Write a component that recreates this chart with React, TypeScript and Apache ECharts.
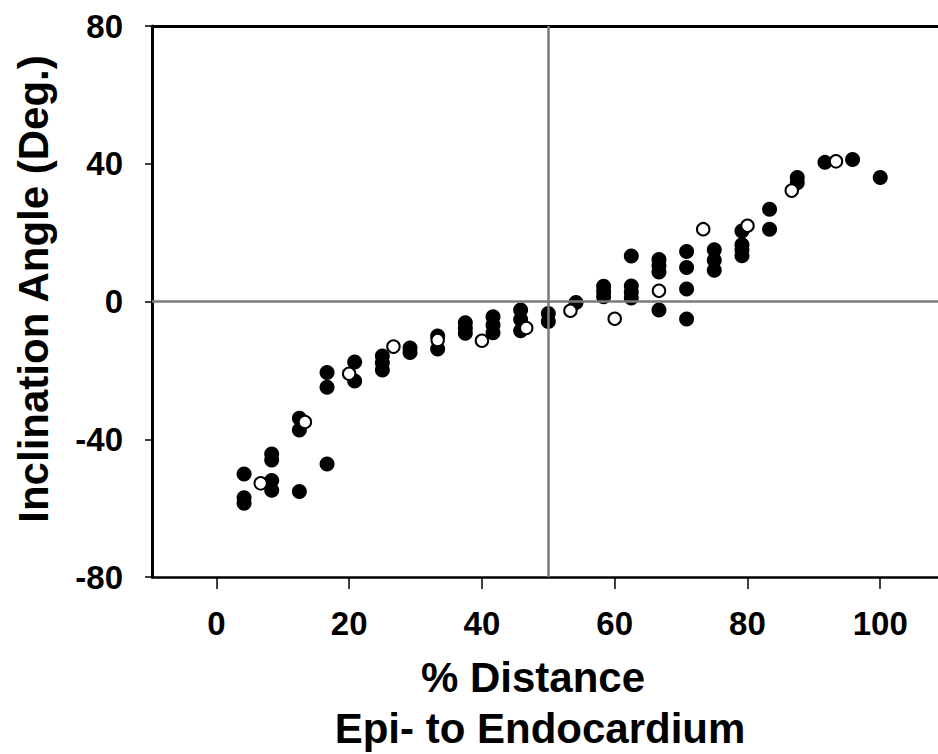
import React, { useEffect, useRef } from "react";
import * as echarts from "echarts";

// Filled circles: [% distance, inclination angle]
const filledPoints: [number, number][] = [
  [4.17, -50.1], [4.17, -57], [4.17, -58.6],
  [8.33, -44.3], [8.33, -46], [8.33, -52], [8.33, -54.8],
  [12.5, -33.9], [12.5, -37.3], [12.5, -55.2],
  [16.67, -20.6], [16.67, -24.9], [16.67, -47.2],
  [20.83, -17.6], [20.83, -23.1],
  [25, -15.8], [25, -17.8], [25, -19.9],
  [29.17, -13.5], [29.17, -14.8],
  [33.33, -10], [33.33, -13.8],
  [37.5, -6.2], [37.5, -7.8], [37.5, -9.2],
  [41.67, -4.4], [41.67, -6.8], [41.67, -9.1],
  [45.83, -2.5], [45.83, -5.2], [45.83, -8.5],
  [50, -3.5], [50, -5.8],
  [54.17, -0.3],
  [58.33, 4.4], [58.33, 2.9], [58.33, 1.4],
  [62.5, 13.2], [62.5, 4.5], [62.5, 2.7], [62.5, 1],
  [66.67, 12.2], [66.67, 10.4], [66.67, 8.6], [66.67, -2.5],
  [70.83, 14.5], [70.83, 9.9], [70.83, 3.6], [70.83, -5.1],
  [75, 15], [75, 12], [75, 9.1],
  [79.17, 20.5], [79.17, 16.5], [79.17, 15], [79.17, 13.3],
  [83.33, 26.8], [83.33, 21],
  [87.5, 36], [87.5, 34.5],
  [91.67, 40.4],
  [95.83, 41.2],
  [100, 36],
];

// Open circles: [% distance, inclination angle]
const openPoints: [number, number][] = [
  [6.67, -52.8], [13.33, -35], [20, -21], [26.67, -13.1], [33.33, -11.2],
  [40, -11.4], [46.67, -7.7], [53.33, -2.7], [60, -5], [66.67, 3.1],
  [73.33, 21], [80, 22], [86.67, 32.2], [93.33, 40.7],
];

const xTicks = [0, 20, 40, 60, 80, 100];
const yTicks = [-80, -40, 0, 40, 80];
const xTitle1 = "% Distance";
const xTitle2 = "Epi- to Endocardium";
const yTitle = "Inclination Angle (Deg.)";
const refX = 50;
const refY = 0;

const FONT = '"Liberation Sans", Arial, Helvetica, sans-serif';

export default function App() {
  const ref = useRef<HTMLDivElement>(null);
  useEffect(() => {
    if (!ref.current) return;
    const chart = echarts.init(ref.current, undefined, { renderer: "svg" });
    chart.setOption({
      animation: false,
      backgroundColor: "#fff",
      grid: { left: 152, right: 0, top: 26, bottom: 177, containLabel: false },
      xAxis: [
        {
          type: "value",
          position: "bottom",
          min: -9.7,
          max: 108.7,
          splitLine: { show: false },
          axisLine: { show: true, onZero: false, lineStyle: { color: "#000", width: 2.5 } },
          axisTick: { show: true, customValues: xTicks, length: 12, lineStyle: { color: "#000", width: 1.5 } },
          axisLabel: {
            customValues: xTicks,
            fontSize: 33,
            fontWeight: "bold",
            fontFamily: FONT,
            color: "#000",
            margin: 30,
          },
        },
        {
          type: "value",
          position: "top",
          min: -9.7,
          max: 108.7,
          splitLine: { show: false },
          axisLine: { show: true, onZero: false, lineStyle: { color: "#000", width: 3 } },
          axisTick: { show: false },
          axisLabel: { show: false },
        },
      ],
      yAxis: {
        type: "value",
        min: -80,
        max: 80,
        interval: 40,
        splitLine: { show: false },
        axisLine: { show: true, onZero: false, lineStyle: { color: "#000", width: 3 } },
        axisTick: { show: true, length: 7, lineStyle: { color: "#000", width: 1.5 } },
        axisLabel: {
          fontSize: 33,
          fontWeight: "bold",
          fontFamily: FONT,
          color: "#000",
          margin: 29,
          customValues: yTicks,
        },
      },
      series: [
        {
          type: "scatter",
          data: filledPoints,
          symbol: "circle",
          symbolSize: 15,
          itemStyle: { color: "#000", opacity: 1 },
          markLine: {
            silent: true,
            symbol: "none",
            label: { show: false },
            lineStyle: { color: "#7a7a7a", width: 2.5, type: "solid", opacity: 1 },
            data: [{ xAxis: refX }, { yAxis: refY }],
          },
          z: 3,
        },
        {
          type: "scatter",
          data: openPoints,
          symbol: "circle",
          symbolSize: 12.5,
          itemStyle: { color: "#fff", borderColor: "#000", borderWidth: 2, opacity: 1 },
          z: 4,
        },
      ],
      graphic: [
        {
          type: "text",
          x: 533,
          y: 677,
          style: {
            text: xTitle1,
            font: `bold 42px ${FONT}`,
            fill: "#000",
            align: "center",
            verticalAlign: "middle",
            textAlign: "center",
            textVerticalAlign: "middle",
          },
        },
        {
          type: "text",
          x: 540,
          y: 728,
          style: {
            text: xTitle2,
            font: `bold 42px ${FONT}`,
            fill: "#000",
            align: "center",
            verticalAlign: "middle",
            textAlign: "center",
            textVerticalAlign: "middle",
          },
        },
        {
          type: "text",
          x: 33,
          y: 289,
          rotation: Math.PI / 2,
          style: {
            text: yTitle,
            font: `bold 42px ${FONT}`,
            fill: "#000",
            align: "center",
            verticalAlign: "middle",
            textAlign: "center",
            textVerticalAlign: "middle",
          },
        },
      ],
    });
    return () => chart.dispose();
  }, []);
  return (
    <div
      ref={ref}
      style={{ position: "fixed", left: 0, top: 0, width: 938, height: 754, background: "#fff" }}
    />
  );
}
